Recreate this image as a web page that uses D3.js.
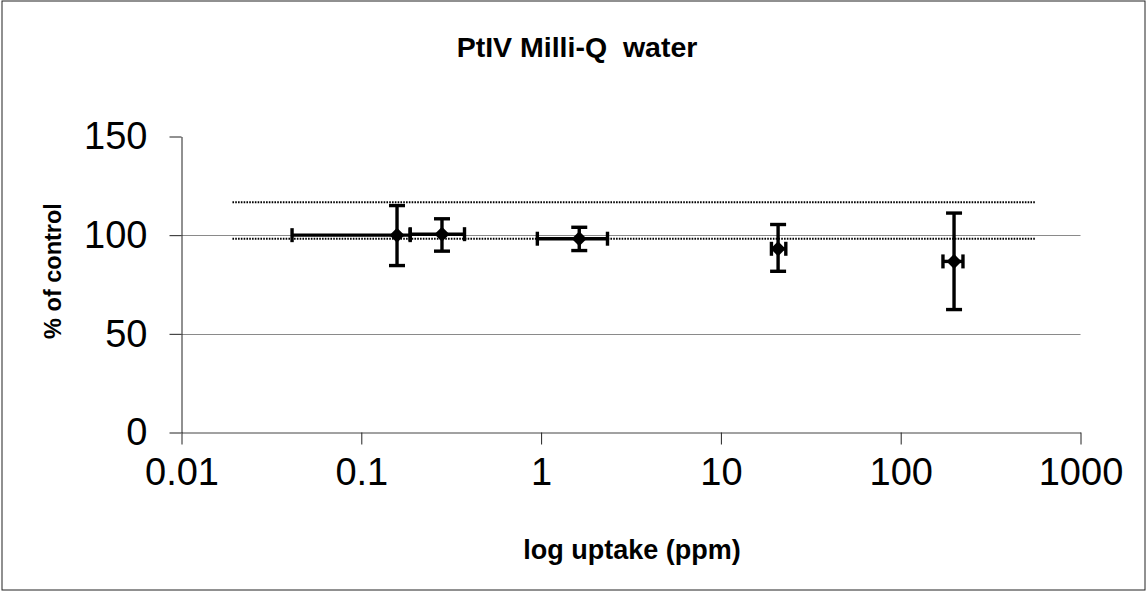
<!DOCTYPE html>
<html>
<head>
<meta charset="utf-8">
<script src="https://cdn.jsdelivr.net/npm/d3@7"></script>
<style>
  html, body { margin: 0; padding: 0; background: #fff; }
  svg text { font-family: "Liberation Sans", Arial, sans-serif; }
</style>
</head>
<body>
<svg id="chart" width="1147" height="592"></svg>
<script>
// ---- data ----
const xTicks = [0.01, 0.1, 1, 10, 100, 1000];
const xTickLabels = ["0.01", "0.1", "1", "10", "100", "1000"];
const yTicks = [0, 50, 100, 150];
const yGrid = [50, 100];

const xVals   = [0.158, 0.281, 1.63, 20.8, 198];
const yVals   = [100, 100.5, 98.2, 93.1, 86.7];
const yHigh   = [115, 108.3, 104, 105.4, 111.2];
const yLow    = [84.6, 91.9, 92.2, 81.7, 62.3];
const xLow    = [0.0412, 0.187, 0.953, 19.1, 171.8];
const xHigh   = [0.187, 0.375, 2.34, 22.96, 222];

const refLevels = [116.7, 98.2];
const refXRange = [0.0192, 560];

const title = "PtIV Milli-Q  water";
const xTitle = "log uptake (ppm)";
const yTitle = "% of control";

// ---- layout ----
const svg = d3.select("#chart");
const x = d3.scaleLog().domain([0.01, 1000]).range([181.5, 1080.5]);
const y = d3.scaleLinear().domain([0, 150]).range([432.5, 136.5]);

// frame
svg.append("rect").attr("x", 2).attr("y", 1).attr("width", 1143).attr("height", 589)
  .attr("fill", "none").attr("stroke", "#222").attr("stroke-width", 1);

// gridlines
svg.append("g").selectAll("line").data(yGrid).join("line")
  .attr("x1", x(0.01)).attr("x2", x(1000))
  .attr("y1", d => Math.round(y(d)) + 0.5).attr("y2", d => Math.round(y(d)) + 0.5)
  .attr("stroke", "#8a8a8a").attr("stroke-width", 1.2);

// y axis
const yAxis = svg.append("g").attr("transform", `translate(${x(0.01)},0)`)
  .call(d3.axisLeft(y).tickValues(yTicks).tickSize(12).tickSizeOuter(0).tickPadding(22).tickFormat(d3.format("d")));
yAxis.select(".domain").attr("stroke", "#222");
yAxis.selectAll(".tick line").attr("stroke", "#222");
yAxis.selectAll("text").attr("font-size", 38).attr("fill", "#000");

// x axis
const xAxis = svg.append("g").attr("transform", `translate(0,${y(0)})`)
  .call(d3.axisBottom(x).tickValues(xTicks).tickSize(12).tickSizeOuter(0).tickPadding(14)
    .tickFormat((d, i) => xTickLabels[i]));
xAxis.select(".domain").attr("stroke", "#444");
xAxis.selectAll(".tick line").attr("stroke", "#222");
xAxis.selectAll("text").attr("font-size", 38).attr("fill", "#000");

// reference dotted lines
svg.append("g").selectAll("line").data(refLevels).join("line")
  .attr("x1", x(refXRange[0])).attr("x2", x(refXRange[1]))
  .attr("y1", d => y(d)).attr("y2", d => y(d))
  .attr("stroke", "#000").attr("stroke-width", 2).attr("stroke-dasharray", "1.6,1.2");

// error bars
const pts = xVals.map((v, i) => ({x: v, y: yVals[i], yh: yHigh[i], yl: yLow[i], xl: xLow[i], xh: xHigh[i]}));
const eb = svg.append("g").attr("stroke", "#000").attr("stroke-width", 3.4).attr("fill", "none");
const capW = 8, capH = 7;
pts.forEach(p => {
  const cx = x(p.x), cy = y(p.y);
  eb.append("line").attr("x1", cx).attr("x2", cx).attr("y1", y(p.yh)).attr("y2", y(p.yl));
  eb.append("line").attr("x1", cx - capW).attr("x2", cx + capW).attr("y1", y(p.yh)).attr("y2", y(p.yh));
  eb.append("line").attr("x1", cx - capW).attr("x2", cx + capW).attr("y1", y(p.yl)).attr("y2", y(p.yl));
  eb.append("line").attr("x1", x(p.xl)).attr("x2", x(p.xh)).attr("y1", cy).attr("y2", cy);
  eb.append("line").attr("x1", x(p.xl)).attr("x2", x(p.xl)).attr("y1", cy - capH).attr("y2", cy + capH);
  eb.append("line").attr("x1", x(p.xh)).attr("x2", x(p.xh)).attr("y1", cy - capH).attr("y2", cy + capH);
});

// markers (diamonds)
svg.append("g").selectAll("path").data(pts).join("path")
  .attr("d", d => { const cx = x(d.x), cy = y(d.y), r = 7.5;
    return `M${cx},${cy - r}L${cx + r},${cy}L${cx},${cy + r}L${cx - r},${cy}Z`; })
  .attr("fill", "#000");

// titles
svg.append("text").attr("x", 577).attr("y", 57).attr("text-anchor", "middle")
  .attr("font-size", 28.5).attr("font-weight", "bold").attr("xml:space", "preserve")
  .style("white-space", "pre").text(title);
svg.append("text").attr("x", 632).attr("y", 559).attr("text-anchor", "middle")
  .attr("font-size", 27).attr("font-weight", "bold").text(xTitle);
svg.append("text").attr("transform", `translate(61,271) rotate(-90)`).attr("text-anchor", "middle")
  .attr("font-size", 23.5).attr("font-weight", "bold").text(yTitle);
</script>
</body>
</html>
